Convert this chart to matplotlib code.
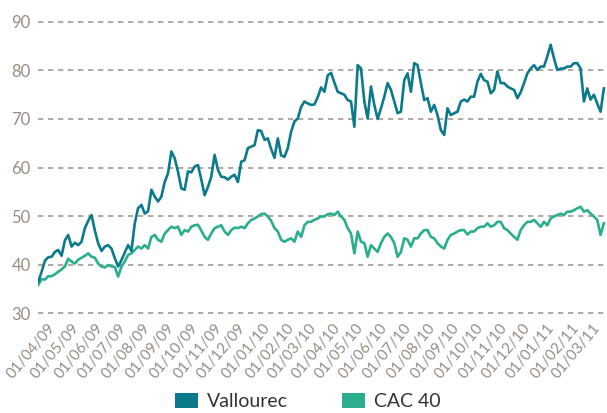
import numpy as np
import pandas as pd
import matplotlib
matplotlib.use('Agg')
import matplotlib.pyplot as plt
from matplotlib.patches import Patch
from matplotlib.transforms import ScaledTranslation

plt.rcParams['font.family'] = ['Lato', 'DejaVu Sans']
plt.rcParams['lines.scale_dashes'] = False

# 数据：从图中读取（等间距采样，约每 4 天一个点）
start_date = '2009-04-02'
end_date = '2011-03-28'

vallourec = [
    36.5, 38.5, 40.8, 41.5, 41.6, 42.6, 43.0, 41.8, 45.0, 46.1,
    43.7, 44.5, 44.0, 44.7, 47.5, 49.0, 50.2, 47.0, 44.4, 42.8,
    43.7, 44.0, 43.3, 41.3, 39.6, 40.9, 42.5, 44.0, 42.8, 48.5,
    51.6, 52.3, 50.5, 51.0, 55.4, 54.0, 53.0, 54.0, 57.0, 58.8,
    63.3, 61.9, 59.1, 55.7, 55.4,
    59.2, 59.0, 60.2, 60.5, 57.5, 54.3, 56.0, 58.1, 62.6, 59.5,
    58.1, 58.0, 57.5, 58.1, 58.5, 57.0, 61.2, 61.5, 64.0, 64.3,
    64.6, 67.7, 67.5, 65.7, 66.0, 63.8, 62.0, 66.0, 62.5, 62.2,
    64.0, 67.4, 69.5, 70.1, 72.5, 73.6, 73.2, 72.9, 73.0, 74.5,
    76.5, 75.6, 79.0,
    79.5, 77.5, 75.6, 75.3, 75.0, 73.9, 73.6, 68.4, 81.1, 80.4,
    73.6, 70.1, 76.7, 72.9, 70.0, 72.2, 74.6, 77.4, 76.0, 73.6,
    71.2, 71.5, 78.0, 79.4, 75.6, 81.5, 81.1, 77.4, 73.9, 74.3,
    71.5, 72.9, 70.8, 67.7, 66.7, 72.2, 70.8, 71.2, 71.5, 73.6,
    74.0, 73.6, 74.6,
    74.6, 77.7, 79.3, 78.0, 77.7, 75.3, 76.0, 79.8, 77.4, 77.4,
    76.7, 76.3, 76.0, 74.3, 75.5, 77.4, 79.4, 80.4, 81.1, 80.1,
    80.8, 80.8, 82.9, 85.3, 82.5, 80.1, 80.4, 80.4, 80.8, 80.8,
    81.5, 81.5, 80.4, 73.6, 76.3, 74.0, 75.0, 73.2, 71.5, 76.3,
]

cac40 = [
    35.8, 37.0, 36.9, 37.6, 37.6, 38.0, 38.5, 39.0, 39.6, 41.2,
    40.6, 40.2, 41.0, 41.4, 41.8, 42.3, 41.6, 41.4, 40.2, 39.6,
    39.4, 39.9, 39.6, 39.5, 37.5, 39.6, 40.6, 42.0, 42.3, 43.0,
    43.7, 43.3, 44.0, 43.3, 45.7, 46.1, 45.1, 44.7, 46.4, 47.1,
    47.8, 47.5, 47.8, 46.1, 47.1,
    46.8, 47.8, 48.1, 48.2, 47.0, 45.7, 45.1, 46.4, 47.5, 47.8,
    48.1, 46.8, 46.1, 47.1, 47.6, 47.5, 47.8, 47.5, 48.5, 49.2,
    49.5, 49.9, 50.4, 50.5, 49.9, 49.0, 47.5, 46.8, 45.1, 44.7,
    45.1, 45.4, 44.7, 46.8, 45.7, 48.1, 48.8, 48.8, 49.2, 49.5,
    49.9, 49.9, 50.4,
    50.5, 50.2, 50.9, 49.9, 49.2, 47.5, 46.4, 42.3, 46.8, 44.7,
    44.4, 41.6, 44.0, 43.3, 42.6, 44.4, 45.7, 46.4, 45.7, 44.4,
    41.6, 42.6, 45.4, 45.1, 43.7, 45.4, 45.4, 46.4, 47.1, 47.1,
    45.7, 45.4, 44.4, 43.7, 43.3, 45.1, 46.1, 46.4, 46.8, 47.1,
    47.1, 46.2, 46.8,
    46.8, 47.5, 47.8, 47.8, 48.5, 47.8, 48.1, 48.8, 48.8, 47.5,
    47.1, 46.4, 45.7, 45.1, 47.1, 48.1, 48.8, 48.8, 49.2, 48.5,
    47.8, 48.8, 48.1, 49.5, 49.9, 50.2, 50.5, 50.2, 50.9, 50.9,
    51.2, 51.6, 51.9, 50.9, 51.2, 50.5, 49.9, 49.2, 46.1, 48.5,
]

y_ticks = [30, 40, 50, 60, 70, 80, 90]
month_ticks = pd.date_range('2009-04-01', '2011-03-01', freq='MS')
month_labels = [d.strftime('%d/%m/%y') for d in month_ticks]
series_names = ['Vallourec', 'CAC 40']
series_colors = ['#0b7b8b', '#2aae8e']

dates = pd.date_range(start_date, end_date, periods=len(vallourec))

fig = plt.figure(figsize=(6.07, 4.13), dpi=100)
# 坐标轴位置按像素对齐参考图
ax = fig.add_axes([37.5 / 607, (413 - 315) / 413, (607 - 37.5) / 607, 295 / 413])

grid_color = '#a39b93'
for v in y_ticks:
    ax.axhline(v, color=grid_color, linestyle=(0, (3.8, 3.4)), linewidth=1.2, zorder=1)

ax.plot(dates, cac40, color=series_colors[1], linewidth=1.9, zorder=3)
ax.plot(dates, vallourec, color=series_colors[0], linewidth=1.9, zorder=4)

ax.set_ylim(29.6, 90.4)
ax.set_xlim(pd.Timestamp('2009-04-01'), pd.Timestamp('2011-04-01'))
ax.set_yticks(y_ticks)
ax.set_xticks(month_ticks)
ax.set_xticklabels(month_labels, rotation=50, ha='right', va='top',
                   rotation_mode='anchor', fontsize=11)

for s in ax.spines.values():
    s.set_visible(False)
ax.tick_params(axis='both', length=0, colors='#978d84')
ax.tick_params(axis='y', labelsize=12, pad=5)
ax.tick_params(axis='x', pad=4)

offset = ScaledTranslation(10 / 100, 0, fig.dpi_scale_trans)
for lbl in ax.get_xticklabels():
    lbl.set_transform(lbl.get_transform() + offset)

handles = [Patch(facecolor=c, edgecolor='none') for c in series_colors]
fig.legend(handles, series_names, loc='center', bbox_to_anchor=(0.507, 0.027),
           ncol=2, frameon=False, fontsize=14, handlelength=1.2, handleheight=0.8,
           handletextpad=0.45, columnspacing=2.8, labelcolor='#333333')

fig.savefig('out.png', dpi=100)
